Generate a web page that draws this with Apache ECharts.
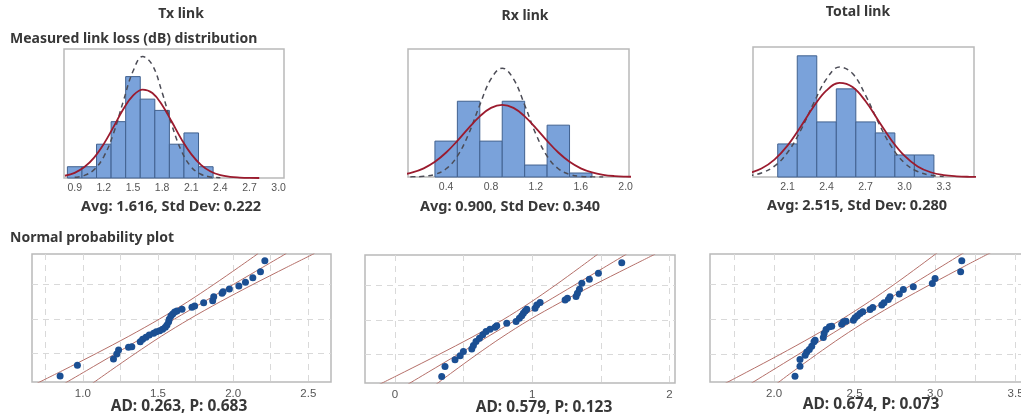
<!DOCTYPE html>
<html lang="en">
<head>
  <meta charset="utf-8">
  <script src="https://cdn.jsdelivr.net/npm/echarts@6/dist/echarts.min.js"></script>
</head>
<body style="margin: 0; background: #fff">
  <div id="container" style="width: 1021px; height: 418px"></div>
  <script type="text/javascript">
    // ---- histogram data (bin edges, counts, fitted curves) ----
    var txEdges = [0.825, 0.975, 1.125, 1.275, 1.425, 1.575, 1.725, 1.875, 2.025, 2.175, 2.325];
    var txCounts = [1, 1, 3, 5, 9, 7, 6, 3, 4, 1];
    var txFitX = [0.8, 0.9, 1.0, 1.1, 1.2, 1.3, 1.4, 1.5, 1.6, 1.7, 1.8, 1.9, 2.0, 2.1, 2.2, 2.3, 2.4, 2.5, 2.6, 2.7, 2.8];
    var txFitY = [0.20, 0.46, 0.97, 1.81, 3.03, 4.54, 6.10, 7.31, 7.85, 7.54, 6.49, 4.99, 3.43, 2.12, 1.17, 0.58, 0.25, 0.10, 0.04, 0.01, 0.0];
    var txDashX = [0.9, 1.0, 1.1, 1.2, 1.3, 1.4, 1.5, 1.6, 1.7, 1.8, 1.9, 2.0, 2.1, 2.2, 2.3, 2.4];
    var txDashY = [0.06, 0.23, 0.74, 1.90, 3.97, 6.79, 9.47, 10.78, 10.02, 7.60, 4.71, 2.38, 0.98, 0.33, 0.09, 0.02];

    var rxEdges = [0.3, 0.5, 0.7, 0.9, 1.1, 1.3, 1.5, 1.7];
    var rxCounts = [9, 19, 9, 19, 3, 13, 1];
    var rxFitX = [0.0, 0.1, 0.2, 0.3, 0.4, 0.5, 0.6, 0.7, 0.8, 0.9, 1.0, 1.1, 1.2, 1.3, 1.4, 1.5, 1.6, 1.7, 1.8, 1.9, 2.0, 2.1];
    var rxFitY = [0.55, 1.14, 2.17, 3.81, 6.14, 9.06, 12.27, 15.22, 17.33, 18.1, 17.33, 15.22, 12.27, 9.06, 6.14, 3.81, 2.17, 1.14, 0.55, 0.24, 0.10, 0.04];
    var rxDashX = [0.0, 0.1, 0.2, 0.3, 0.4, 0.5, 0.6, 0.7, 0.8, 0.9, 1.0, 1.1, 1.2, 1.3, 1.4, 1.5, 1.6, 1.7, 1.8];
    var rxDashY = [0.01, 0.04, 0.17, 0.66, 2.06, 5.23, 10.77, 18.06, 24.6, 27.3, 24.6, 18.06, 10.77, 5.23, 2.06, 0.66, 0.17, 0.04, 0.01];

    var totEdges = [2.025, 2.175, 2.325, 2.475, 2.625, 2.775, 2.925, 3.075, 3.225];
    var totCounts = [3, 11, 5, 8, 5, 4, 2, 2];
    var totFitX = [1.8, 1.9, 2.0, 2.1, 2.2, 2.3, 2.4, 2.5, 2.6, 2.7, 2.8, 2.9, 3.0, 3.1, 3.2, 3.3, 3.4, 3.5, 3.6];
    var totFitY = [0.33, 0.77, 1.58, 2.85, 4.54, 6.37, 7.86, 8.54, 8.17, 6.87, 5.09, 3.32, 1.91, 0.96, 0.43, 0.17, 0.06, 0.02, 0.01];
    var totDashX = [1.8, 1.9, 2.0, 2.1, 2.2, 2.3, 2.4, 2.5, 2.6, 2.7, 2.8, 2.9, 3.0, 3.1, 3.2, 3.3];
    var totDashY = [0.11, 0.37, 0.98, 2.22, 4.2, 6.67, 8.91, 9.98, 9.39, 7.41, 4.91, 2.73, 1.27, 0.50, 0.16, 0.05];

    // tick labels
    var txHistTicks = [0.9, 1.2, 1.5, 1.8, 2.1, 2.4, 2.7, 3.0];
    var rxHistTicks = [0.4, 0.8, 1.2, 1.6, 2.0];
    var totHistTicks = [2.1, 2.4, 2.7, 3.0, 3.3];
    var txProbTicks = [1.0, 1.5, 2.0, 2.5];
    var rxProbTicks = [0, 1, 2];
    var totProbTicks = [2.0, 2.5, 3.0, 3.5];
    var txProbGrid = [0.75, 1.0, 1.25, 1.5, 1.75, 2.0, 2.25, 2.5];
    var rxProbGrid = [0, 0.5, 1, 1.5, 2];
    var totProbGrid = [1.75, 2.0, 2.25, 2.5, 2.75, 3.0, 3.25, 3.5];
    var probRowGrid = [-1, 0, 1];

    // ---- normal probability plots: fit line and confidence bands ----
    var bandY = [-1.9, -1.5, -1, -0.5, 0, 0.5, 1, 1.5, 1.9];
    var txMid = [0.866, 1.023, 1.219, 1.414, 1.61, 1.806, 2.001, 2.197, 2.354];
    var txUpper = [0.679, 0.863, 1.089, 1.306, 1.51, 1.698, 1.871, 2.037, 2.167];
    var txLower = [1.053, 1.183, 1.349, 1.522, 1.71, 1.914, 2.131, 2.357, 2.541];
    var rxMid = [0.077, 0.246, 0.458, 0.670, 0.882, 1.094, 1.306, 1.518, 1.687];
    var rxUpper = [-0.132, 0.070, 0.320, 0.561, 0.785, 0.985, 1.168, 1.342, 1.478];
    var rxLower = [0.286, 0.422, 0.596, 0.779, 0.979, 1.203, 1.444, 1.694, 1.896];
    var totMid = [1.827, 1.970, 2.149, 2.328, 2.507, 2.686, 2.865, 3.044, 3.187];
    var totUpper = [1.661, 1.829, 2.036, 2.235, 2.422, 2.593, 2.752, 2.903, 3.021];
    var totLower = [1.994, 2.111, 2.263, 2.421, 2.592, 2.779, 2.979, 3.185, 3.354];

    var txDotX = [0.849, 0.964, 1.204, 1.226, 1.238, 1.304, 1.326, 1.382, 1.398, 1.420, 1.442, 1.471, 1.489, 1.511, 1.531, 1.549, 1.560, 1.571, 1.575, 1.586, 1.598, 1.611, 1.626, 1.660, 1.726, 1.744, 1.804, 1.864, 1.871, 1.926, 1.933, 1.975, 2.038, 2.082, 2.131, 2.182, 2.211];
    var txDotY = [-1.652, -1.343, -1.159, -1.014, -0.899, -0.821, -0.802, -0.657, -0.589, -0.531, -0.464, -0.415, -0.367, -0.338, -0.300, -0.242, -0.174, -0.077, -0.010, 0.087, 0.145, 0.203, 0.232, 0.280, 0.338, 0.377, 0.473, 0.531, 0.647, 0.744, 0.792, 0.870, 0.957, 1.063, 1.198, 1.372, 1.691];
    var rxDotX = [0.340, 0.364, 0.437, 0.474, 0.498, 0.559, 0.571, 0.590, 0.615, 0.639, 0.663, 0.692, 0.729, 0.741, 0.814, 0.882, 0.906, 0.923, 0.935, 0.948, 0.960, 1.020, 1.033, 1.057, 1.239, 1.256, 1.319, 1.329, 1.344, 1.361, 1.416, 1.482, 1.652];
    var rxDotY = [-1.633, -1.345, -1.153, -1.037, -0.913, -0.845, -0.740, -0.624, -0.528, -0.432, -0.336, -0.269, -0.211, -0.173, -0.096, -0.048, 0.048, 0.115, 0.192, 0.259, 0.307, 0.336, 0.432, 0.500, 0.576, 0.624, 0.672, 0.768, 0.884, 1.057, 1.172, 1.345, 1.652];
    var totDotX = [2.130, 2.161, 2.161, 2.193, 2.203, 2.219, 2.234, 2.248, 2.255, 2.306, 2.311, 2.323, 2.344, 2.358, 2.420, 2.431, 2.447, 2.493, 2.503, 2.518, 2.534, 2.551, 2.596, 2.613, 2.669, 2.683, 2.710, 2.720, 2.778, 2.803, 2.865, 2.983, 3.000, 3.159, 3.166];
    var totDotY = [-1.615, -1.331, -1.143, -1.020, -0.925, -0.859, -0.765, -0.642, -0.595, -0.519, -0.406, -0.293, -0.217, -0.198, -0.142, -0.076, -0.057, -0.028, 0.038, 0.094, 0.161, 0.208, 0.274, 0.331, 0.397, 0.463, 0.557, 0.633, 0.708, 0.840, 0.916, 1.010, 1.152, 1.341, 1.652];

    var BAR_FILL = '#7aa2da';
    var BAR_EDGE = '#41618f';
    var FIT_RED = '#9b1b2e';
    var DASH_GREY = '#4c4c56';
    var BAND_RED = '#b5706a';
    var DOT_BLUE = '#1b4f93';
    var LABEL_FONT = '"Liberation Sans", sans-serif';
    var TITLE_FONT = '"Noto Sans", sans-serif';

    function zip(xs, ys) {
      return xs.map(function (x, i) { return [x, ys[i]]; });
    }

    var dom = document.getElementById('container');
    var myChart = echarts.init(dom, null, { renderer: 'canvas' });

    var grids = [
      { left: 64, top: 49, width: 220, height: 129 },
      { left: 408, top: 49, width: 221, height: 128 },
      { left: 753, top: 47, width: 221, height: 130 },
      { left: 32, top: 254, width: 299, height: 128 },
      { left: 365, top: 255, width: 310, height: 128 },
      { left: 710, top: 254, width: 316, height: 128 }
    ].map(function (g) {
      g.show = true;
      g.borderColor = '#b9b9b9';
      g.borderWidth = 1.5;
      g.backgroundColor = '#fff';
      g.outerBoundsMode = 'none';
      return g;
    });

    function xAxis(idx, min, max, labels, gridVals, decimals, fontSize, margin) {
      return {
        type: 'value', gridIndex: idx, min: min, max: max,
        axisLine: { show: false },
        axisTick: { show: false, customValues: gridVals || labels },
        splitLine: gridVals ? { show: true, lineStyle: { color: '#d9d9d9', type: [6, 5], width: 1 } } : { show: false },
        axisLabel: {
          customValues: labels, margin: margin,
          color: '#555', fontSize: fontSize, fontFamily: LABEL_FONT,
          formatter: function (v) { return v.toFixed(decimals); }
        }
      };
    }
    function yAxis(idx, min, max, rows) {
      return {
        type: 'value', gridIndex: idx, min: min, max: max,
        axisLine: { show: false },
        axisTick: { show: false, customValues: rows || [min] },
        axisLabel: { show: false },
        splitLine: rows ? { show: true, lineStyle: { color: '#d9d9d9', type: [6, 5], width: 1 } } : { show: false }
      };
    }

    function histSeries(idx, edges, counts) {
      return {
        type: 'custom', xAxisIndex: idx, yAxisIndex: idx,
        encode: { x: [0, 1], y: 2 },
        data: counts.map(function (c, i) { return [edges[i], edges[i + 1], c]; }),
        renderItem: function (params, api) {
          var p0 = api.coord([api.value(0), api.value(2)]);
          var p1 = api.coord([api.value(1), 0]);
          return {
            type: 'rect',
            shape: { x: p0[0], y: p0[1], width: p1[0] - p0[0], height: p1[1] - p0[1] },
            style: { fill: BAR_FILL, stroke: BAR_EDGE, lineWidth: 1 }
          };
        }
      };
    }
    function curve(idx, xs, ys, color, width, dash) {
      return {
        type: 'line', xAxisIndex: idx, yAxisIndex: idx, smooth: 0.4,
        showSymbol: false, silent: true, z: 3,
        lineStyle: { color: color, width: width, type: dash ? [5, 4] : 'solid' },
        data: zip(xs, ys)
      };
    }
    function band(idx, xs) {
      return {
        type: 'line', xAxisIndex: idx, yAxisIndex: idx, smooth: 0.3,
        showSymbol: false, silent: true,
        lineStyle: { color: BAND_RED, width: 1 },
        data: zip(xs, bandY)
      };
    }
    function dots(idx, xs, ys) {
      return {
        type: 'scatter', xAxisIndex: idx, yAxisIndex: idx, symbolSize: 7, z: 4,
        itemStyle: { color: DOT_BLUE, opacity: 1 },
        data: zip(xs, ys)
      };
    }

    function text(x, y, str, align, size) {
      return {
        type: 'text', x: x, y: y,
        style: {
          text: str, align: align, verticalAlign: 'middle',
          font: 'bold ' + size + 'px ' + TITLE_FONT, fill: '#383838'
        }
      };
    }

    var option = {
      animation: false,
      grid: grids,
      xAxis: [
        xAxis(0, 0.79, 3.055, txHistTicks, null, 1, 10.5, 5),
        xAxis(1, 0.06, 2.03, rxHistTicks, null, 1, 10.5, 5),
        xAxis(2, 1.835, 3.533, totHistTicks, null, 1, 10.5, 5),
        xAxis(3, 0.662, 2.651, txProbTicks, txProbGrid, 1, 11.5, 6),
        xAxis(4, -0.219, 2.04, rxProbTicks, rxProbGrid, 0, 11.5, 6),
        xAxis(5, 1.602, 3.565, totProbTicks, totProbGrid, 1, 11.5, 6)
      ],
      yAxis: [
        yAxis(0, 0, 11.45),
        yAxis(1, 0, 32.1),
        yAxis(2, 0, 11.8),
        yAxis(3, -1.826, 1.884, probRowGrid),
        yAxis(4, -1.824, 1.873, probRowGrid),
        yAxis(5, -1.776, 1.841, probRowGrid)
      ],
      series: [
        histSeries(0, txEdges, txCounts),
        curve(0, txDashX, txDashY, DASH_GREY, 1.5, true),
        curve(0, txFitX, txFitY, FIT_RED, 1.8, false),
        histSeries(1, rxEdges, rxCounts),
        curve(1, rxDashX, rxDashY, DASH_GREY, 1.5, true),
        curve(1, rxFitX, rxFitY, FIT_RED, 1.8, false),
        histSeries(2, totEdges, totCounts),
        curve(2, totDashX, totDashY, DASH_GREY, 1.5, true),
        curve(2, totFitX, totFitY, FIT_RED, 1.8, false),
        band(3, txUpper), band(3, txMid), band(3, txLower), dots(3, txDotX, txDotY),
        band(4, rxUpper), band(4, rxMid), band(4, rxLower), dots(4, rxDotX, rxDotY),
        band(5, totUpper), band(5, totMid), band(5, totLower), dots(5, totDotX, totDotY)
      ],
      graphic: [
        text(181, 14, 'Tx link', 'center', 14),
        text(525, 16, 'Rx link', 'center', 14),
        text(858, 12, 'Total link', 'center', 14),
        text(10, 39, 'Measured link loss (dB) distribution', 'left', 14),
        text(171, 207, 'Avg: 1.616, Std Dev: 0.222', 'center', 14.5),
        text(510, 207, 'Avg: 0.900, Std Dev: 0.340', 'center', 14.5),
        text(857, 206, 'Avg: 2.515, Std Dev: 0.280', 'center', 14.5),
        text(10, 238, 'Normal probability plot', 'left', 14),
        text(179, 407, 'AD: 0.263, P: 0.683', 'center', 15.5),
        text(544, 408, 'AD: 0.579, P: 0.123', 'center', 15.5),
        text(871, 405, 'AD: 0.674, P: 0.073', 'center', 15.5)
      ]
    };

    myChart.setOption(option);
    window.addEventListener('resize', myChart.resize);
  </script>
</body>
</html>
